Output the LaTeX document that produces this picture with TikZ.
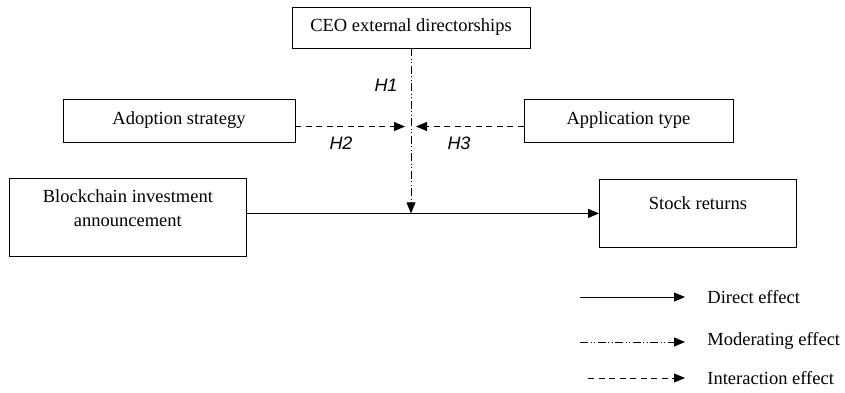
\documentclass[tikz,border=0pt]{standalone}
\usepackage{fontspec}
\setmainfont{Liberation Serif}
\newfontfamily\hypfont{Liberation Sans}
\usetikzlibrary{arrows.meta, positioning, calc}

\begin{document}
\begin{tikzpicture}[
        x=1pt, y=-1pt,
        line width=0.8pt,
        box/.style={rectangle, draw, inner sep=0pt, font=\fontsize{18.5}{24}\selectfont},
        hyp/.style={font=\hypfont\itshape\fontsize{18}{22}\selectfont, inner sep=0pt},
        legtext/.style={anchor=west, inner sep=0pt, font=\fontsize{18.5}{22}\selectfont},
        tip/.style={-{Triangle[length=11pt, width=9pt]}},
        direct/.style={tip},
        moderating/.style={tip, dash pattern=on 8pt off 2.5pt on 1pt off 2.5pt on 1pt off 2.5pt},
        interaction/.style={tip, dash pattern=on 6pt off 4.5pt},
    ]
    \useasboundingbox (0,0) rectangle (845,392);

    % Moderator
    \node[box, minimum width=238pt, minimum height=41pt] (ceo) at (411,27.5) {CEO external directorships};

    % Interaction variables
    \node[box, minimum width=232pt, minimum height=43pt] (adopt) at (179,120.5) {Adoption strategy};
    \node[box, minimum width=209pt, minimum height=43pt] (app) at (628.5,120.5) {Application type};

    % Main path
    \node[box, anchor=north west, align=center, minimum width=237pt,
          text height=48pt, text depth=30pt] (bia) at (9,178) {Blockchain investment\\announcement};
    \node[box, anchor=north west, minimum width=197pt,
          text height=30pt, text depth=38pt] (sr) at (599,179) {Stock returns};

    \coordinate (hit) at (ceo.south |- sr.west);
    \coordinate (cross) at ($(ceo.south |- adopt.east)+(0,6)$);

    % Effects
    \draw[direct] (bia.east |- sr.west) -- (sr.west);
    \draw[moderating] (ceo.south) -- (hit);
    \draw[interaction] ([yshift=-6pt]adopt.east) -- ([xshift=-6pt]cross);
    \draw[interaction] ([yshift=-6pt]app.west) -- ([xshift=5pt]cross);

    % Hypotheses
    \node[hyp] (h1) at (386,85) {H1};
    \node[hyp] (h2) at (341,143) {H2};
    \node[hyp] (h3) at (459,143) {H3};

    % Legend
    \node[legtext] (ldirect) at (707,297) {Direct effect};
    \node[legtext] (lmod) at (707,341) {Moderating effect};
    \node[legtext] (lint) at (707,378) {Interaction effect};
    \coordinate (sdirect) at (580,297);
    \coordinate (smod) at (580,342);
    \coordinate (sint) at (588,378);
    \draw[direct] (sdirect) -- ([xshift=-22pt]ldirect.west |- sdirect);
    \draw[moderating] (smod) -- ([xshift=-22pt]lmod.west |- smod);
    \draw[interaction] (sint) -- ([xshift=-22pt]lint.west |- sint);
\end{tikzpicture}
\end{document}
